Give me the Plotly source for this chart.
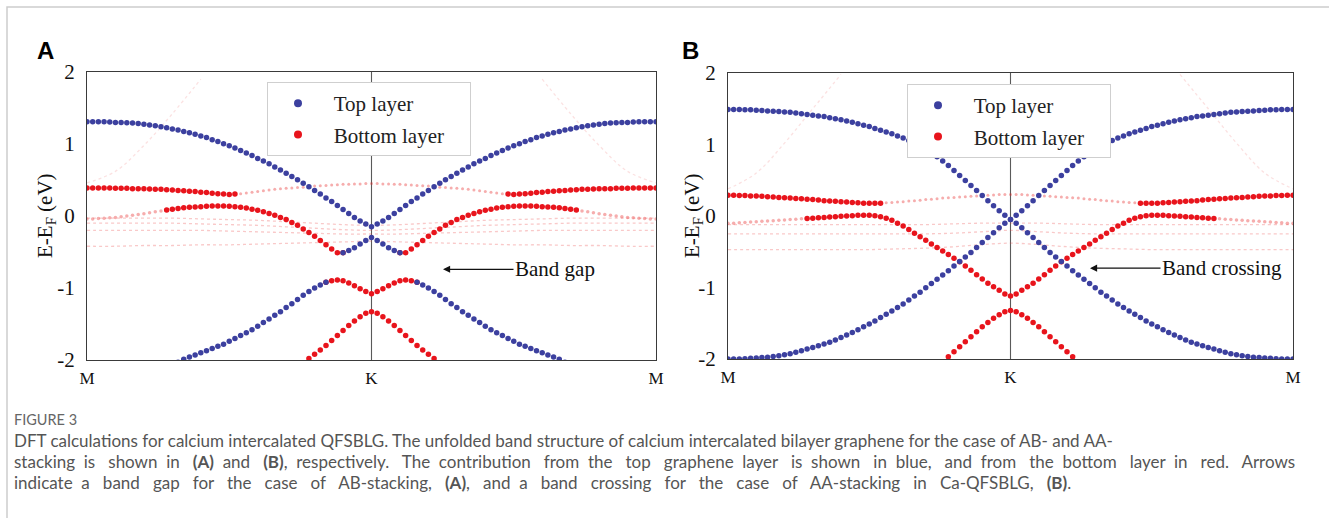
import plotly.graph_objects as go

# ---------------- data ----------------
K_HALF = [0.00, 0.02, 0.04, 0.06, 0.08, 0.10, 0.12, 0.14, 0.16, 0.18,
          0.20, 0.22, 0.24, 0.26, 0.28, 0.30, 0.32, 0.34, 0.36, 0.38,
          0.40, 0.42, 0.44, 0.46, 0.48, 0.50, 0.52, 0.54, 0.56, 0.58,
          0.60, 0.62, 0.64, 0.66, 0.68, 0.70, 0.72, 0.74, 0.76, 0.78,
          0.80, 0.82, 0.84, 0.86, 0.88, 0.90, 0.92, 0.94, 0.96, 0.98, 1.00]
K_COARSE = [0.0, 0.1, 0.2, 0.3, 0.4, 0.5, 0.6, 0.7, 0.8, 0.9, 1.0]
PATH_TICKS = [0, 1, 2]
PATH_LABELS = ["M", "K", "M"]
E_TICKS = [-2, -1, 0, 1, 2]

# Panel A (AB stacking), energies along M -> K (mirrored K -> M)
A_TOP_UPPER = [1.31, 1.31, 1.31, 1.31, 1.305, 1.30, 1.30, 1.295, 1.29, 1.285,
               1.275, 1.265, 1.255, 1.24, 1.225, 1.21, 1.195, 1.175, 1.155, 1.135,
               1.11, 1.09, 1.06, 1.035, 1.005, 0.975, 0.945, 0.91, 0.875, 0.84,
               0.80, 0.765, 0.725, 0.68, 0.64, 0.595, 0.55, 0.505, 0.455, 0.405,
               0.355, 0.305, 0.25, 0.20, 0.145, 0.09, 0.035, -0.02, -0.07, -0.11, -0.15]
A_BOT_FLAT = [0.39, 0.39, 0.39, 0.39, 0.39, 0.385, 0.385, 0.385, 0.38, 0.38,
              0.38, 0.375, 0.37, 0.37, 0.365, 0.36, 0.355, 0.35, 0.345, 0.34,
              0.33, 0.325, 0.315, 0.31, 0.305, 0.30, 0.305, 0.31, 0.32, 0.33,
              0.34, 0.35, 0.36, 0.37, 0.38, 0.385, 0.39, 0.395, 0.40, 0.41,
              0.415, 0.42, 0.425, 0.43, 0.435, 0.44, 0.44, 0.445, 0.445, 0.45, 0.45]
A_MID = [-0.04, -0.04, -0.035, -0.03, -0.025, -0.02, -0.01, 0.0, 0.01, 0.02,
         0.03, 0.045, 0.06, 0.07, 0.085, 0.095, 0.105, 0.115, 0.12, 0.125,
         0.13, 0.135, 0.14, 0.14, 0.14, 0.135, 0.13, 0.12, 0.11, 0.095,
         0.08, 0.06, 0.035, 0.01, -0.02, -0.05, -0.09, -0.13, -0.18, -0.23,
         -0.28, -0.34, -0.40, -0.46, -0.51, -0.51, -0.48, -0.44, -0.39, -0.34, -0.30]
A_LOW = [-2.03, -1.99, -1.96, -1.93, -1.90, -1.87, -1.84, -1.81, -1.78, -1.74,
         -1.70, -1.66, -1.62, -1.58, -1.53, -1.48, -1.43, -1.38, -1.33, -1.27,
         -1.22, -1.16, -1.10, -1.05, -1.00, -0.96, -0.92, -0.90, -0.89, -0.90,
         -0.93, -0.97, -1.01, -1.05, -1.08]            # k = 0.32 ... 1.00
A_LOWEST = [-2.04, -1.98, -1.92, -1.86, -1.80, -1.73, -1.66, -1.59, -1.52,
            -1.46, -1.40, -1.35, -1.33]               # k = 0.76 ... 1.00
A_FAINT_ROWS = [
    [-0.03, -0.03, -0.03, -0.03, -0.04, -0.05, -0.06, -0.08, -0.10, -0.12, -0.13],
    [-0.10, -0.10, -0.10, -0.10, -0.11, -0.12, -0.13, -0.15, -0.17, -0.19, -0.20],
    [-0.20, -0.20, -0.20, -0.20, -0.20, -0.21, -0.22, -0.23, -0.24, -0.25, -0.25],
    [-0.42, -0.42, -0.41, -0.41, -0.40, -0.40, -0.39, -0.38, -0.37, -0.36, -0.35],
]
A_FAINT_UP = [0.46, 0.62, 0.98, 1.42, 1.90]            # k = 0.0 ... 0.4

# Panel B (AA stacking)
B_TOP_UPPER = [1.49, 1.49, 1.49, 1.485, 1.485, 1.48, 1.475, 1.47, 1.465, 1.46,
               1.455, 1.45, 1.44, 1.43, 1.42, 1.41, 1.40, 1.39, 1.375, 1.36,
               1.345, 1.33, 1.31, 1.29, 1.27, 1.25, 1.225, 1.20, 1.175, 1.15,
               1.12, 1.09, 1.055, 1.015, 0.975, 0.93, 0.88, 0.83, 0.77, 0.705,
               0.635, 0.565, 0.495, 0.425, 0.355, 0.285, 0.215, 0.145, 0.075, 0.01, -0.05]
B_TOP_LOWER = [-2.00, -2.00, -2.00, -1.995, -1.99, -1.985, -1.98, -1.975, -1.965, -1.955,
               -1.94, -1.925, -1.905, -1.885, -1.86, -1.84, -1.815, -1.79, -1.765, -1.735,
               -1.70, -1.665, -1.63, -1.59, -1.55, -1.51, -1.47, -1.42, -1.375, -1.33,
               -1.28, -1.23, -1.175, -1.12, -1.065, -1.005, -0.945, -0.885, -0.825, -0.765,
               -0.70, -0.635, -0.575, -0.51, -0.44, -0.37, -0.30, -0.235, -0.165, -0.10, -0.05]
B_BOT_FLAT = [0.29, 0.29, 0.285, 0.285, 0.28, 0.28, 0.275, 0.27, 0.265, 0.26,
              0.255, 0.25, 0.245, 0.24, 0.235, 0.23, 0.225, 0.215, 0.21, 0.205,
              0.20, 0.195, 0.19, 0.185, 0.18, 0.18, 0.18, 0.18, 0.185, 0.19,
              0.195, 0.20, 0.21, 0.215, 0.22, 0.23, 0.235, 0.24, 0.25, 0.255,
              0.26, 0.265, 0.27, 0.275, 0.28, 0.285, 0.29, 0.295, 0.30, 0.30, 0.30]
B_MID = [-0.10, -0.10, -0.095, -0.09, -0.085, -0.08, -0.075, -0.07, -0.065, -0.06,
         -0.055, -0.05, -0.045, -0.04, -0.035, -0.03, -0.025, -0.02, -0.015, -0.01,
         -0.005, 0.0, 0.005, 0.01, 0.01, 0.01, 0.005, -0.01, -0.03, -0.06,
         -0.10, -0.14, -0.19, -0.24, -0.29, -0.34, -0.39, -0.44, -0.49, -0.54,
         -0.59, -0.64, -0.70, -0.76, -0.82, -0.88, -0.94, -0.99, -1.04, -1.09, -1.12]
B_LOWEST = [-2.05, -1.97, -1.90, -1.83, -1.76, -1.69, -1.62, -1.55, -1.49,
            -1.43, -1.38, -1.34, -1.32]               # k = 0.76 ... 1.00
B_FAINT_ROWS = [
    [-0.12, -0.12, -0.12, -0.12, -0.12, -0.12, -0.12, -0.12, -0.11, -0.10, -0.10],
    [-0.25, -0.25, -0.25, -0.25, -0.25, -0.25, -0.25, -0.25, -0.24, -0.22, -0.20],
    [-0.47, -0.47, -0.47, -0.47, -0.47, -0.47, -0.46, -0.45, -0.43, -0.40, -0.38],
]
B_FAINT_UP = [0.38, 0.60, 1.02, 1.50, 1.98]            # k = 0.0 ... 0.4

CAPTION_TITLE = "FIGURE 3"
CAPTION_LINES = [
    "DFT calculations for calcium intercalated QFSBLG. The unfolded band structure of calcium intercalated bilayer graphene for the case of AB- and AA-",
    "stacking is shown in <b>(A)</b> and <b>(B)</b>, respectively. The contribution from the top graphene layer is shown in blue, and from the bottom layer in red. Arrows",
    "indicate a band gap for the case of AB-stacking, <b>(A)</b>, and a band crossing for the case of AA-stacking in Ca-QFSBLG, <b>(B)</b>.",
]
CAPTION_EXTRA_SPACES = [0, 40, 40]   # justified lines: extra word spacing

# ---------------- styling ----------------
W, H = 1329, 518
BLUE = "#3c409f"
RED = "#e8141c"
FAINT_RED = "rgba(232,40,40,0.38)"
FAINT_LINE = "rgba(232,60,60,0.28)"
FAINT_UP_LINE = "rgba(232,90,90,0.18)"
SERIF = "Liberation Serif"
DOT = 5.5
NBSP = "\u00a0"


def mirror(ks, es):
    ks, es = list(ks), list(es)
    if ks[-1] == 1.0:
        return ks + [round(2 - k, 4) for k in ks[-2::-1]], es + es[-2::-1]
    return (ks + [None] + [round(2 - k, 4) for k in ks[::-1]],
            es + [None] + es[::-1])


def justify(line, extra):
    words = line.split(" ")
    n = len(words) - 1
    out = words[0]
    for j in range(n):
        cnt = (j + 1) * extra // n - j * extra // n if n else 0
        out += " " + NBSP * cnt + words[j + 1]
    return out


fig = go.Figure()


def add_dots(ks, es, color, size, ax):
    x, y = mirror(ks, es)
    fig.add_trace(go.Scatter(x=x, y=y, mode="markers", showlegend=False,
                             hoverinfo="skip",
                             marker=dict(size=size, color=color, line_width=0),
                             xaxis="x" + ax, yaxis="y" + ax))


def add_faint_line(ks, es, ax, color=FAINT_LINE):
    x, y = mirror(ks, es)
    fig.add_trace(go.Scatter(x=x, y=y, mode="lines", showlegend=False,
                             hoverinfo="skip", connectgaps=False,
                             line=dict(color=color, width=1.3, dash="dot",
                                       shape="spline"),
                             xaxis="x" + ax, yaxis="y" + ax))


# --- panel A ---
for row in A_FAINT_ROWS:
    add_faint_line(K_COARSE, row, "")
add_faint_line(K_COARSE[:5], A_FAINT_UP, "", FAINT_UP_LINE)
add_dots(K_HALF[26:], A_BOT_FLAT[26:], FAINT_RED, 3, "")
add_dots(K_HALF[:14], A_MID[:14], FAINT_RED, 3.5, "")
add_dots(K_HALF[:27], A_BOT_FLAT[:27], RED, DOT, "")
add_dots(K_HALF[14:46], A_MID[14:46], RED, DOT, "")
add_dots(K_HALF[42:], A_LOW[26:], RED, DOT, "")
add_dots(K_HALF[38:], A_LOWEST, RED, DOT, "")
add_dots(K_HALF, A_TOP_UPPER, BLUE, DOT, "")
add_dots(K_HALF[45:], A_MID[45:], BLUE, DOT, "")
add_dots(K_HALF[16:43], A_LOW[:27], BLUE, DOT, "")

# --- panel B ---
for row in B_FAINT_ROWS:
    add_faint_line(K_COARSE, row, "2")
add_faint_line(K_COARSE[:5], B_FAINT_UP, "2", FAINT_UP_LINE)
add_dots(K_HALF[27:], B_BOT_FLAT[27:], FAINT_RED, 3, "2")
add_dots(K_HALF[:15], B_MID[:15], FAINT_RED, 3.5, "2")
add_dots(K_HALF[:28], B_BOT_FLAT[:28], RED, DOT, "2")
add_dots(K_HALF[14:], B_MID[14:], RED, DOT, "2")
add_dots(K_HALF[38:], B_LOWEST, RED, DOT, "2")
add_dots(K_HALF, B_TOP_UPPER, BLUE, DOT, "2")
add_dots(K_HALF, B_TOP_LOWER, BLUE, DOT, "2")

# legend entries
for ax, leg in (("", "legend"), ("2", "legend2")):
    for name, col in (("Top layer", BLUE), ("Bottom layer", RED)):
        fig.add_trace(go.Scatter(x=[None], y=[None], mode="markers",
                                 name=NBSP * 3 + name + NBSP * 4,
                                 marker=dict(size=8, color=col),
                                 legend=leg, legendgroup=leg + name,
                                 xaxis="x" + ax, yaxis="y" + ax))

axis_common = dict(range=[0, 2], showgrid=False, zeroline=False, showline=True,
                   linecolor="#3a3a3a", linewidth=1.2, mirror=True,
                   tickvals=PATH_TICKS, ticktext=PATH_LABELS, ticks="",
                   tickfont=dict(family=SERIF, size=17, color="#111"),
                   ticklabelstandoff=2, automargin=False)
yaxis_common = dict(range=[-2, 2], showgrid=False, zeroline=False, showline=True,
                    linecolor="#3a3a3a", linewidth=1.2, mirror=True,
                    tickvals=E_TICKS, ticktext=[str(v) for v in E_TICKS], ticks="",
                    tickfont=dict(family=SERIF, size=21, color="#111"),
                    ticklabelstandoff=7, automargin=False)

legend_common = dict(xanchor="left", yanchor="top", bgcolor="white",
                     bordercolor="#cfcfcf", borderwidth=1, tracegroupgap=1,
                     indentation=10,
                     font=dict(family=SERIF, size=21, color="#222"))

fig.update_layout(
    width=W, height=H, margin=dict(l=0, r=0, t=0, b=0),
    paper_bgcolor="white", plot_bgcolor="white",
    xaxis=dict(domain=[87 / W, 656 / W], anchor="y", **axis_common),
    yaxis=dict(domain=[1 - 360 / H, 1 - 72 / H], anchor="x", **yaxis_common),
    xaxis2=dict(domain=[728 / W, 1293 / W], anchor="y2", **axis_common),
    yaxis2=dict(domain=[1 - 359 / H, 1 - 73 / H], anchor="x2", **yaxis_common),
    legend=dict(x=267 / W, y=1 - 82 / H, **legend_common),
    legend2=dict(x=907 / W, y=1 - 84 / H, **legend_common),
    showlegend=True,
)

# vertical line at K
for ax in ("", "2"):
    fig.add_shape(type="line", x0=1, x1=1, y0=0, y1=1, xref="x" + ax,
                  yref=("y" + ax + " domain"), line=dict(color="#5a5a5a", width=1.1),
                  layer="below")

# outer border of the figure frame
fig.add_shape(type="rect", xref="paper", yref="paper", x0=7 / W, x1=1.05,
              y0=-0.05, y1=1 - 7 / H, line=dict(color="#cdcdcd", width=1.5))

# y-axis titles
for px in (46, 693):
    fig.add_annotation(x=px / W, y=1 - 216 / H, xref="paper", yref="paper",
                       xanchor="center", yanchor="middle", textangle=-90,
                       text="E-E<sub>F</sub> (eV)", showarrow=False,
                       font=dict(family=SERIF, size=21, color="#111"))

# arrow annotations
fig.add_annotation(x=(443 - 87) / (656 - 87) * 2, y=-0.74, xref="x", yref="y",
                   ax=112, ay=0, text="Band gap", showarrow=True, arrowhead=2,
                   arrowsize=1.1, arrowwidth=1.3, arrowcolor="#111",
                   font=dict(family=SERIF, size=21, color="#111"))
fig.add_annotation(x=(1090 - 728) / (1293 - 728) * 2, y=-0.73, xref="x2", yref="y2",
                   ax=132, ay=0, text="Band crossing", showarrow=True, arrowhead=2,
                   arrowsize=1.1, arrowwidth=1.3, arrowcolor="#111",
                   font=dict(family=SERIF, size=21, color="#111"))

# panel letters
for txt, px in (("A", 45), ("B", 690)):
    fig.add_annotation(x=px / W, y=1 - 50 / H, xref="paper", yref="paper",
                       xanchor="center", yanchor="middle",
                       text="<b>" + txt + "</b>", showarrow=False,
                       font=dict(family="Liberation Sans", size=24, color="black"))

# caption
fig.add_annotation(x=12 / W, y=1 - 419 / H, xref="paper", yref="paper",
                   xanchor="left", yanchor="middle", text=CAPTION_TITLE,
                   showarrow=False, font=dict(family="Lato", size=14.5, color="#666"))
for i, line in enumerate(CAPTION_LINES):
    fig.add_annotation(x=12 / W, y=1 - (440 + 21 * i) / H, xref="paper", yref="paper",
                       xanchor="left", yanchor="middle",
                       text=justify(line, CAPTION_EXTRA_SPACES[i]), showarrow=False,
                       font=dict(family="Lato", size=17, color="#555"))

fig.write_html("out.html", config={"displayModeBar": False},
               post_script="document.body.style.margin='0px';")
